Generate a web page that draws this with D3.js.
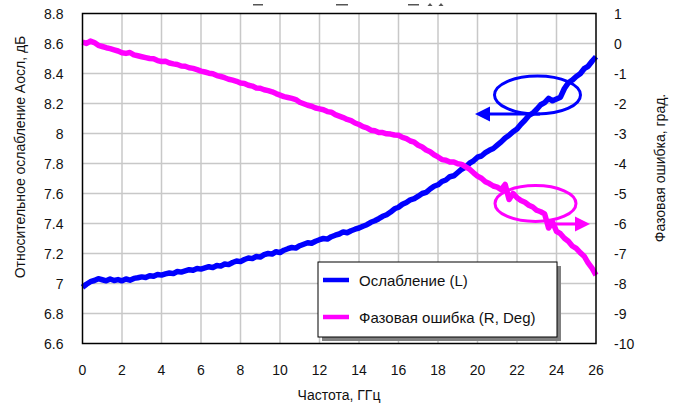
<!DOCTYPE html>
<html>
<head>
<meta charset="utf-8">
<script src="https://cdn.jsdelivr.net/npm/d3@7"></script>
<style>
  body { margin: 0; background: #fff; }
  text { font-family: "Liberation Sans", Arial, sans-serif; fill: #111; }
</style>
</head>
<body>
<div id="chart"></div>
<script>
// frequency grid: one sample every 0.2 GHz, 0..26
var freqStep = 0.2;

// attenuation, dB (left axis)
var attenuation = [
  6.975, 6.995, 7.012, 7.020, 7.032, 7.025, 7.018, 7.030, 7.020, 7.026,
  7.018, 7.030, 7.022, 7.034, 7.038, 7.044, 7.040, 7.052, 7.048, 7.060,
  7.056, 7.064, 7.070, 7.066, 7.080, 7.076, 7.084, 7.092, 7.088, 7.100,
  7.096, 7.104, 7.112, 7.106, 7.120, 7.116, 7.130, 7.126, 7.140, 7.150,
  7.146, 7.160, 7.170, 7.166, 7.180, 7.176, 7.192, 7.200, 7.196, 7.212,
  7.206, 7.222, 7.232, 7.240, 7.236, 7.252, 7.262, 7.272, 7.268, 7.282,
  7.292, 7.300, 7.296, 7.312, 7.322, 7.330, 7.344, 7.338, 7.352, 7.362,
  7.370, 7.382, 7.392, 7.408, 7.418, 7.432, 7.448, 7.458, 7.476, 7.498,
  7.508, 7.528, 7.540, 7.558, 7.566, 7.582, 7.600, 7.608, 7.630, 7.648,
  7.658, 7.680, 7.690, 7.712, 7.718, 7.740, 7.762, 7.776, 7.802, 7.818,
  7.842, 7.850, 7.872, 7.888, 7.900, 7.922, 7.944, 7.970, 7.988, 8.012,
  8.030, 8.062, 8.088, 8.120, 8.136, 8.162, 8.192, 8.206, 8.234, 8.218,
  8.230, 8.242, 8.300, 8.338, 8.356, 8.380, 8.398, 8.432, 8.448, 8.482,
  8.512
];

// phase error, degrees (right axis)
var phaseError = [
  0.05, 0.00, 0.08, 0.03, -0.06, -0.10, -0.14, -0.17, -0.21, -0.25,
  -0.31, -0.33, -0.30, -0.38, -0.41, -0.44, -0.47, -0.50, -0.51, -0.57,
  -0.60, -0.59, -0.65, -0.68, -0.70, -0.75, -0.76, -0.81, -0.83, -0.87,
  -0.92, -0.95, -0.99, -1.01, -1.07, -1.10, -1.14, -1.19, -1.22, -1.26,
  -1.32, -1.33, -1.39, -1.42, -1.48, -1.49, -1.54, -1.57, -1.61, -1.67,
  -1.72, -1.77, -1.80, -1.83, -1.87, -1.96, -2.01, -2.06, -2.09, -2.15,
  -2.18, -2.21, -2.27, -2.29, -2.37, -2.42, -2.47, -2.53, -2.57, -2.65,
  -2.70, -2.77, -2.81, -2.89, -2.91, -2.97, -2.97, -3.01, -3.02, -3.05,
  -3.06, -3.13, -3.17, -3.25, -3.29, -3.39, -3.45, -3.55, -3.61, -3.71,
  -3.78, -3.87, -3.89, -3.95, -3.95, -4.01, -4.03, -4.11, -4.19, -4.31,
  -4.42, -4.49, -4.61, -4.67, -4.75, -4.79, -4.87, -4.70, -5.20, -5.00,
  -5.14, -5.23, -5.29, -5.39, -5.45, -5.56, -5.61, -5.68, -6.15, -5.95,
  -6.26, -6.34, -6.49, -6.59, -6.75, -6.83, -6.97, -7.09, -7.31, -7.49,
  -7.72
];

var xTicks = d3.range(0, 27, 2);
var leftTicks = [6.6, 6.8, 7, 7.2, 7.4, 7.6, 7.8, 8, 8.2, 8.4, 8.6, 8.8];
var rightTicks = [-10, -9, -8, -7, -6, -5, -4, -3, -2, -1, 0, 1];

var seriesNames = ['Ослабление (L)', 'Фазовая ошибка (R, Deg)'];
var colours = ['#0000ff', '#ff00ff'];

(function () {
  var width = 686, height = 408;
  var pl = 82.5, pr = 596, pt = 13.5, pb = 343.5;

  var svg = d3.select('#chart').append('svg')
    .attr('width', width)
    .attr('height', height);

  var x = d3.scaleLinear().domain([0, 26]).range([pl, pr]);
  var yL = d3.scaleLinear().domain([6.6, 8.8]).range([pb, pt]);
  var yR = d3.scaleLinear().domain([-10, 1]).range([pb, pt]);

  // clipped title remnants at the very top
  var ghost = svg.append('g').attr('fill', '#555');
  [[253, 10], [336, 12], [408, 11]].forEach(function(d) {
    ghost.append('rect').attr('x', d[0]).attr('y', 4).attr('width', d[1]).attr('height', 1.5);
  });
  [430, 441].forEach(function(cx) {
    ghost.append('path').attr('d', 'M' + (cx - 2.5) + ',6 L' + cx + ',3 L' + (cx + 2.5) + ',6 Z');
  });

  // grid
  var grid = svg.append('g').attr('stroke', '#c8c8c8').attr('stroke-width', 1.5);
  grid.selectAll('line.v')
    .data(xTicks.slice(1, -1))
    .enter().append('line')
    .attr('x1', function(d) { return x(d); })
    .attr('x2', function(d) { return x(d); })
    .attr('y1', pt).attr('y2', pb);
  grid.selectAll('line.h')
    .data(leftTicks.slice(1, -1))
    .enter().append('line')
    .attr('x1', pl).attr('x2', pr)
    .attr('y1', function(d) { return yL(d); })
    .attr('y2', function(d) { return yL(d); });

  // series
  var line1 = d3.line()
    .x(function(d, i) { return x(i * freqStep); })
    .y(function(d) { return yL(d); });
  var line2 = d3.line()
    .x(function(d, i) { return x(i * freqStep); })
    .y(function(d) { return yR(d); });

  svg.append('path').datum(attenuation)
    .attr('d', line1)
    .attr('fill', 'none').attr('stroke', colours[0])
    .attr('stroke-width', 5.5).attr('stroke-linejoin', 'round');
  svg.append('path').datum(phaseError)
    .attr('d', line2)
    .attr('fill', 'none').attr('stroke', colours[1])
    .attr('stroke-width', 5.5).attr('stroke-linejoin', 'round');

  // plot frame
  svg.append('rect')
    .attr('x', pl).attr('y', pt)
    .attr('width', pr - pl).attr('height', pb - pt)
    .attr('fill', 'none').attr('stroke', '#000').attr('stroke-width', 1.5);

  // annotations: ellipses with arrows pointing to the axes
  function arrowHead(tipX, y, dir, colour) {
    svg.append('path')
      .attr('d', 'M' + tipX + ',' + y + ' L' + (tipX + dir * 15) + ',' + (y - 7.5) +
        ' L' + (tipX + dir * 15) + ',' + (y + 7.5) + ' Z')
      .attr('fill', colour);
  }
  svg.append('ellipse')
    .attr('cx', 537.5).attr('cy', 95).attr('rx', 43).attr('ry', 19)
    .attr('fill', 'none').attr('stroke', colours[0]).attr('stroke-width', 3);
  svg.append('line')
    .attr('x1', 480).attr('x2', 540).attr('y1', 114).attr('y2', 114)
    .attr('stroke', colours[0]).attr('stroke-width', 3);
  arrowHead(475, 114, 1, colours[0]);

  svg.append('ellipse')
    .attr('cx', 535.5).attr('cy', 203.5).attr('rx', 40.5).attr('ry', 18)
    .attr('fill', 'none').attr('stroke', colours[1]).attr('stroke-width', 3);
  svg.append('line')
    .attr('x1', 550).attr('x2', 585).attr('y1', 224).attr('y2', 224)
    .attr('stroke', colours[1]).attr('stroke-width', 3);
  arrowHead(590, 224, -1, colours[1]);

  // axis labels
  svg.selectAll('text.xt')
    .data(xTicks).enter().append('text')
    .attr('x', function(d) { return x(d); })
    .attr('y', 375)
    .attr('text-anchor', 'middle')
    .attr('font-size', 14)
    .text(function(d) { return d; });

  svg.selectAll('text.yl')
    .data(leftTicks).enter().append('text')
    .attr('x', 63.5)
    .attr('y', function(d) { return yL(d) + 5; })
    .attr('text-anchor', 'end')
    .attr('font-size', 14)
    .text(function(d) { return +d.toFixed(1); });

  svg.selectAll('text.yr')
    .data(rightTicks).enter().append('text')
    .attr('x', 614)
    .attr('y', function(d) { return yR(d) + 5; })
    .attr('font-size', 14)
    .text(function(d) { return d; });

  svg.append('text')
    .attr('x', 339).attr('y', 400)
    .attr('text-anchor', 'middle').attr('font-size', 14)
    .text('Частота, ГГц');

  svg.append('text')
    .attr('transform', 'translate(25,157) rotate(-90)')
    .attr('text-anchor', 'middle').attr('font-size', 14)
    .text('Относительное ослабление Аосл, дБ');

  svg.append('text')
    .attr('transform', 'translate(665,168) rotate(-90)')
    .attr('text-anchor', 'middle').attr('font-size', 14)
    .text('Фазовая ошибка, град.');

  // legend
  var lg = svg.append('g');
  lg.append('rect')
    .attr('x', 322).attr('y', 266).attr('width', 239).attr('height', 75)
    .attr('fill', '#808080');
  lg.append('rect')
    .attr('x', 318).attr('y', 262).attr('width', 239).attr('height', 75)
    .attr('fill', '#fff').attr('stroke', '#000').attr('stroke-width', 1);
  seriesNames.forEach(function(name, i) {
    var ly = 280 + i * 37;
    lg.append('line')
      .attr('x1', 323).attr('x2', 349).attr('y1', ly).attr('y2', ly)
      .attr('stroke', colours[i]).attr('stroke-width', 4.5);
    lg.append('text')
      .attr('x', 359).attr('y', ly + 5.5)
      .attr('font-size', 15)
      .text(name);
  });
})();
</script>
</body>
</html>
